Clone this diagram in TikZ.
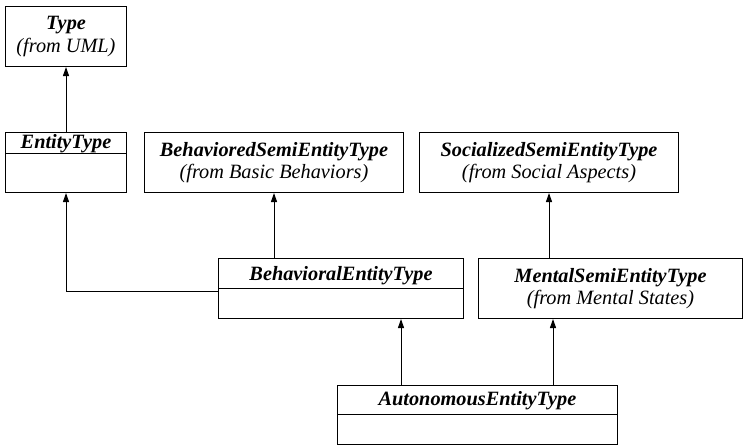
\documentclass[tikz,border=0pt]{standalone}
\usepackage{fontspec}
\setmainfont{Liberation Serif}
\usetikzlibrary{arrows.meta}
\begin{document}
\begin{tikzpicture}[x=1pt,y=-1pt,
  box/.style={draw, line width=1pt, rectangle, inner sep=0pt, anchor=north west},
  lab/.style={align=center, inner sep=0pt, font=\fontsize{20.3}{22.5}\selectfont\itshape},
  title/.style={inner sep=0pt, anchor=base, font=\fontsize{20.3}{22.5}\selectfont\bfseries\itshape},
  gen/.style={line width=1pt, -{Triangle[length=9pt,width=6pt]}}]
\useasboundingbox (0,0) rectangle (743,447);

% classes with a package note
\node[box, lab, minimum width=121pt, minimum height=60pt] (type) at (5,6)
  {\textbf{Type}\\(from UML)};
\node[box, lab, minimum width=259pt, minimum height=60pt] (behaviored) at (144,132)
  {\textbf{BehavioredSemiEntityType}\\(from Basic Behaviors)};
\node[box, lab, minimum width=259pt, minimum height=60pt] (socialized) at (419,132)
  {\textbf{SocializedSemiEntityType}\\(from Social Aspects)};
\node[box, lab, minimum width=264pt, minimum height=60pt] (mental) at (478,258)
  {\textbf{MentalSemiEntityType}\\(from Mental States)};

% classes with a name compartment and an empty attribute compartment
\node[box, minimum width=121pt, minimum height=60pt] (entity) at (5,132) {};
\draw[line width=1pt] ([yshift=-21pt]entity.north west) -- ([yshift=-21pt]entity.north east);
\node[title] (entityT) at ([yshift=-16.5pt]entity.north) {EntityType};

\node[box, minimum width=245pt, minimum height=60pt] (behavioral) at (218,258) {};
\draw[line width=1pt] ([yshift=-30pt]behavioral.north west) -- ([yshift=-30pt]behavioral.north east);
\node[title] (behavioralT) at ([yshift=-22.5pt]behavioral.north) {BehavioralEntityType};

\node[box, minimum width=280pt, minimum height=59pt] (auto) at (337,385) {};
\draw[line width=1pt] ([yshift=-29pt]auto.north west) -- ([yshift=-29pt]auto.north east);
\node[title] (autoT) at ([yshift=-20.5pt]auto.north) {AutonomousEntityType};

% generalizations
\draw[gen] (entity.north) -- (type.south);
\draw[gen] ([yshift=-3pt]behavioral.west) -| (entity.south);
\draw[gen] (behaviored.south |- behavioral.north) -- (behaviored.south);
\draw[gen] (socialized.south |- mental.north) -- (socialized.south);
\draw[gen] ([xshift=64pt]auto.north west) -- ([xshift=64pt]auto.north west |- behavioral.south);
\draw[gen] ([xshift=216pt]auto.north west) -- ([xshift=216pt]auto.north west |- mental.south);
\end{tikzpicture}
\end{document}
